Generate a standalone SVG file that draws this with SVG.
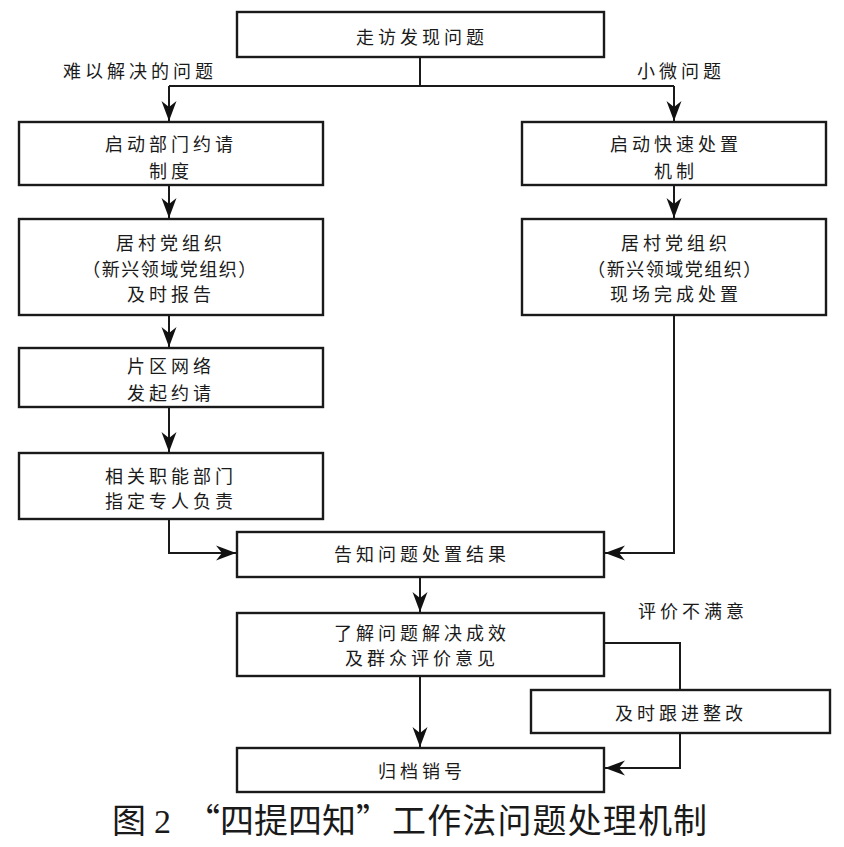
<svg xmlns="http://www.w3.org/2000/svg" width="844" height="847" viewBox="0 0 844 847">
<style>
.box{fill:#fff;stroke:#1a1a1a;stroke-width:2.4}
.t{font-family:"Noto Sans CJK SC","Noto Sans",sans-serif;font-size:18px;fill:#1a1a1a;letter-spacing:4px;text-anchor:middle;dominant-baseline:central}
.line{fill:none;stroke:#1a1a1a;stroke-width:2}
.cap{font-family:"Noto Sans CJK SC","Noto Sans",sans-serif;font-size:34px;fill:#1a1a1a}
</style>
<defs>
<marker id="ah" markerUnits="userSpaceOnUse" markerWidth="24" markerHeight="18" viewBox="-22 -9 24 18" refX="0" refY="0" orient="auto">
<path d="M0,0 L-20,-7.5 L-14,0 L-20,7.5 Z" fill="#111"/>
</marker>
</defs>
<rect width="844" height="847" fill="#fff"/>
<g id="connectors">
<path class="line" d="M420,57 V86 M169,86 H674"/>
<path class="line" d="M169,86 V121" marker-end="url(#ah)"/>
<path class="line" d="M674,86 V121" marker-end="url(#ah)"/>
<path class="line" d="M169,185 V218" marker-end="url(#ah)"/>
<path class="line" d="M674,185 V218" marker-end="url(#ah)"/>
<path class="line" d="M169,315 V347" marker-end="url(#ah)"/>
<path class="line" d="M169,407 V452" marker-end="url(#ah)"/>
<path class="line" d="M169,519 V553 H236" marker-end="url(#ah)"/>
<path class="line" d="M674,315 V553 H605" marker-end="url(#ah)"/>
<path class="line" d="M420,577 V612" marker-end="url(#ah)"/>
<path class="line" d="M604,643 H680 V690"/>
<path class="line" d="M680,733 V768 H605" marker-end="url(#ah)"/>
<path class="line" d="M420,676 V747" marker-end="url(#ah)"/>
</g>
<g id="labels">
<text class="t" x="140" y="70">难以解决的问题</text>
<text class="t" x="681" y="70">小微问题</text>
<text class="t" x="693" y="610">评价不满意</text>
</g>
<g id="n1"><rect class="box" x="237" y="12" width="367" height="45"/><text class="t" x="422" y="36">走访发现问题</text></g>
<g id="n2"><rect class="box" x="19" y="122" width="304" height="63"/><text class="t" x="171" y="143">启动部门约请</text><text class="t" x="171" y="170">制度</text></g>
<g id="n3"><rect class="box" x="522" y="122" width="304" height="63"/><text class="t" x="676" y="143">启动快速处置</text><text class="t" x="676" y="170">机制</text></g>
<g id="n4"><rect class="box" x="19" y="219" width="304" height="96"/><text class="t" x="171" y="242">居村党组织</text><text class="t" x="170" y="268" style="letter-spacing:1.5px">（新兴领域党组织）</text><text class="t" x="171" y="293">及时报告</text></g>
<g id="n5"><rect class="box" x="522" y="219" width="304" height="96"/><text class="t" x="676" y="242">居村党组织</text><text class="t" x="675" y="268" style="letter-spacing:1.5px">（新兴领域党组织）</text><text class="t" x="676" y="293">现场完成处置</text></g>
<g id="n6"><rect class="box" x="19" y="348" width="304" height="59"/><text class="t" x="171" y="365">片区网络</text><text class="t" x="171" y="392">发起约请</text></g>
<g id="n7"><rect class="box" x="19" y="453" width="304" height="66"/><text class="t" x="171" y="475">相关职能部门</text><text class="t" x="171" y="500">指定专人负责</text></g>
<g id="n8"><rect class="box" x="237" y="532" width="367" height="45"/><text class="t" x="422" y="553">告知问题处置结果</text></g>
<g id="n9"><rect class="box" x="237" y="613" width="367" height="63"/><text class="t" x="422" y="632">了解问题解决成效</text><text class="t" x="422" y="657">及群众评价意见</text></g>
<g id="n10"><rect class="box" x="531" y="690" width="299" height="43"/><text class="t" x="681" y="712">及时跟进整改</text></g>
<g id="n11"><rect class="box" x="237" y="748" width="367" height="44"/><text class="t" x="422" y="770">归档销号</text></g>
<g id="caption">
<text class="cap" y="833"><tspan x="112">图</tspan><tspan x="154" style="font-family:'Liberation Serif',serif">2</tspan><tspan x="186">“四提四知”</tspan><tspan x="392" textLength="315">工作法问题处理机制</tspan></text>
</g>
</svg>
